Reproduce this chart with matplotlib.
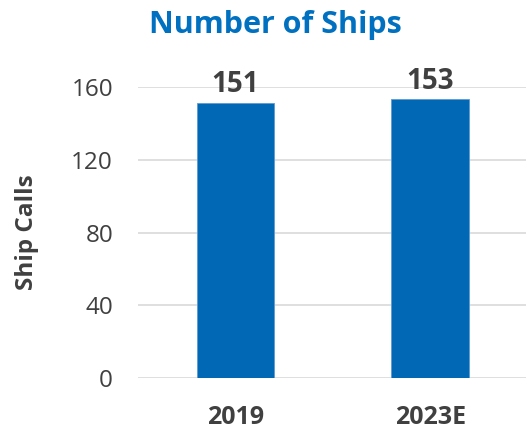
import matplotlib
matplotlib.use("Agg")
from matplotlib import pyplot as plt

years = ["2019", "2023E"]
ship_calls = [151, 153]
y_ticks = [0, 40, 80, 120, 160]

bar_color = "#0068B5"
text_color = "#404040"

plt.rcParams['font.family'] = ['Open Sans', 'DejaVu Sans']

fig = plt.figure(figsize=(5.26, 4.30), dpi=100)
ax = fig.add_axes([0.2624, 0.1202, 0.7376, 0.6782])

x = range(len(years))
bars = ax.bar(x, ship_calls, width=0.4, color=bar_color, edgecolor="#5B9BD5",
              linewidth=0.6, zorder=3)

for b, v in zip(bars, ship_calls):
    ax.text(b.get_x() + b.get_width() / 2, v + 6, str(v), ha='center', va='baseline',
            fontsize=20, fontweight='bold', color=text_color, clip_on=False)

ax.set_xlim(-0.5, 1.49)
ax.set_ylim(0, 160)
ax.set_yticks(y_ticks)
ax.set_xticks(list(x))
ax.set_xticklabels(years, fontsize=18, fontweight='bold', color=text_color)
ax.tick_params(axis='y', labelsize=17.5, labelcolor=text_color, length=0, pad=18)
ax.tick_params(axis='x', length=0, pad=19)
ax.grid(axis='y', color='#D9D9D9', linewidth=1.2, zorder=0)
for s in ax.spines.values():
    s.set_visible(False)

ax.set_ylabel("Ship Calls", fontsize=17.5, fontweight='bold', color=text_color)
ax.yaxis.set_label_coords(-0.255, 0.5)
fig.text(0.523, 0.923, "Number of Ships", ha='center', va='baseline', fontsize=22,
         fontweight='bold', color="#0070C0")

fig.savefig("out.png", dpi=100)
